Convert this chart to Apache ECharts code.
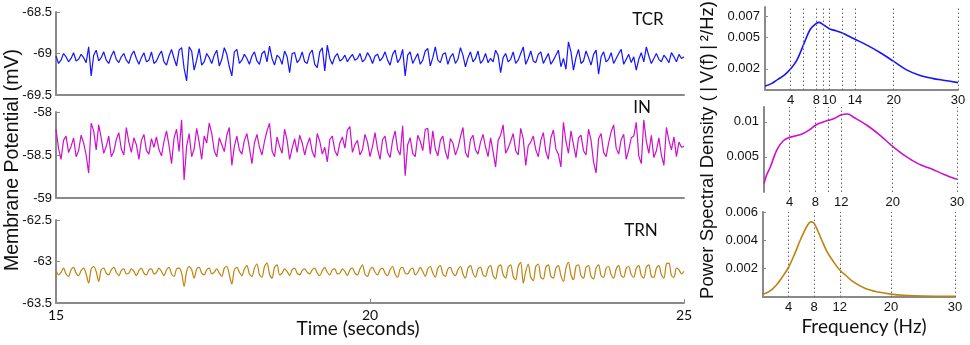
<!DOCTYPE html>
<html>
<head>
<meta charset="utf-8">
<script src="https://cdn.jsdelivr.net/npm/echarts@6/dist/echarts.min.js"></script>
<style>
html,body{margin:0;padding:0;background:#fff;}
#chart{width:970px;height:345px;}
</style>
</head>
<body>
<div id="chart"></div>
<script>
// ---------- DATA ----------
const timeStart = 15;      // seconds
const timeStep = 0.04;     // sampling step (s)
const timeTicks = [15, 20, 25];

const tcrValues = [
-69.03,-69.12,-69.08,-69.00,-69.04,-69.10,-69.06,-68.99,-69.09,-69.07,
-69.01,-69.05,-69.11,-68.92,-69.27,-69.02,-68.96,-69.09,-69.05,-68.98,
-69.08,-69.12,-69.03,-68.97,-69.07,-69.11,-69.04,-69.00,-69.08,-69.12,
-69.02,-68.97,-69.06,-69.13,-69.05,-68.99,-69.10,-69.08,-68.98,-69.12,
-69.09,-69.02,-68.97,-69.10,-69.14,-69.03,-68.95,-69.06,-69.15,-68.96,
-68.93,-69.18,-69.33,-68.92,-68.97,-69.20,-69.08,-68.94,-69.14,-69.10,
-69.00,-69.05,-69.12,-69.02,-68.96,-69.15,-69.07,-68.93,-69.01,-69.16,
-69.27,-68.98,-68.95,-69.12,-69.08,-69.01,-69.06,-69.13,-69.03,-68.98,
-69.09,-69.13,-69.00,-68.97,-69.10,-68.91,-69.06,-69.14,-69.02,-69.05,
-69.13,-68.97,-69.04,-69.23,-69.00,-68.99,-69.11,-69.07,-68.98,-69.10,
-69.12,-69.00,-68.96,-69.13,-69.17,-68.98,-68.93,-69.21,-68.90,-69.06,
-69.13,-69.04,-69.00,-69.09,-69.07,-69.02,-69.10,-69.05,-69.01,-69.08,
-69.06,-69.00,-69.10,-69.07,-68.99,-69.04,-69.12,-69.03,-69.01,-69.09,
-69.05,-68.98,-69.08,-69.14,-69.01,-68.96,-69.11,-69.06,-68.95,-69.27,
-69.02,-68.98,-69.12,-69.06,-69.00,-69.13,-69.08,-68.97,-68.94,-69.15,
-69.05,-68.92,-69.08,-69.11,-69.01,-68.99,-69.13,-69.04,-69.00,-69.12,
-69.07,-68.93,-69.02,-69.16,-69.05,-68.98,-69.10,-69.06,-68.97,-69.12,
-69.08,-69.00,-69.11,-69.06,-69.10,-68.96,-69.02,-69.23,-69.05,-69.00,
-69.10,-69.07,-68.98,-69.12,-69.08,-69.00,-68.92,-69.13,-69.06,-68.97,
-69.09,-69.11,-69.01,-68.98,-69.12,-69.06,-69.00,-69.13,-69.08,-69.02,
-68.96,-69.16,-69.06,-69.19,-68.86,-68.98,-69.20,-69.05,-68.95,-69.12,
-69.09,-68.97,-69.05,-69.14,-69.01,-68.96,-69.25,-69.04,-68.98,-69.10,
-69.07,-68.99,-69.12,-69.06,-69.00,-68.95,-69.13,-69.07,-69.01,-69.11,
-69.04,-69.20,-69.07,-68.99,-69.10,-68.92,-69.03,-69.12,-69.06,-69.00,
-69.07,-69.10,-69.02,-69.06,-69.11,-68.99,-69.04,-69.10,-69.01,-69.06,
-69.04
];

const inValues = [
-58.20,-58.42,-58.55,-58.33,-58.28,-58.47,-58.40,-58.30,-58.52,-58.45,
-58.27,-58.36,-58.50,-58.71,-58.13,-58.22,-58.44,-58.15,-58.30,-58.48,
-58.40,-58.28,-58.52,-58.46,-58.32,-58.24,-58.43,-58.50,-58.18,-58.35,
-58.47,-58.30,-58.38,-58.55,-58.33,-58.26,-58.45,-58.49,-58.31,-58.41,
-58.29,-58.44,-58.51,-58.34,-58.22,-58.39,-58.60,-58.30,-58.20,-58.46,
-58.09,-58.79,-58.40,-58.25,-58.52,-58.43,-58.19,-58.35,-58.55,-58.28,
-58.36,-58.13,-58.25,-58.45,-58.52,-58.30,-58.38,-58.46,-58.27,-58.18,
-58.62,-58.40,-58.28,-58.44,-58.49,-58.33,-58.25,-58.42,-58.60,-58.36,
-58.26,-58.41,-58.50,-58.34,-58.22,-58.13,-58.45,-58.52,-58.29,-58.40,
-58.48,-58.20,-58.33,-58.55,-58.42,-58.31,-58.47,-58.27,-58.36,-58.50,
-58.38,-58.30,-58.46,-58.53,-58.25,-58.34,-58.49,-58.41,-58.58,-58.32,
-58.28,-58.45,-58.51,-58.36,-58.29,-58.42,-58.21,-58.17,-58.47,-58.38,
-58.33,-58.50,-58.44,-58.26,-58.35,-58.52,-58.40,-58.24,-58.43,-58.55,
-58.32,-58.28,-58.47,-58.53,-58.33,-58.22,-58.44,-58.50,-58.16,-58.74,
-58.38,-58.30,-58.48,-58.52,-58.27,-58.34,-58.45,-58.20,-58.19,-58.49,
-58.22,-58.43,-58.51,-58.33,-58.28,-58.46,-58.55,-58.31,-58.36,-58.50,
-58.42,-58.29,-58.18,-58.47,-58.53,-58.32,-58.27,-58.44,-58.49,-58.35,
-58.26,-58.41,-58.52,-58.30,-58.46,-58.64,-58.33,-58.27,-58.15,-58.48,
-58.42,-58.34,-58.25,-58.45,-58.50,-58.19,-58.31,-58.62,-58.39,-58.35,
-58.28,-58.44,-58.52,-58.33,-58.24,-58.46,-58.55,-58.30,-58.21,-58.43,
-58.49,-58.64,-58.12,-58.34,-58.48,-58.22,-58.38,-58.53,-58.30,-58.27,
-58.45,-58.50,-58.20,-58.33,-58.58,-58.71,-58.31,-58.25,-58.47,-58.52,
-58.36,-58.23,-58.15,-58.42,-58.49,-58.32,-58.26,-58.55,-58.44,-58.30,
-58.28,-58.12,-58.51,-58.60,-58.09,-58.34,-58.48,-58.27,-58.53,-58.45,
-58.30,-58.50,-58.62,-58.18,-58.33,-58.44,-58.29,-58.52,-58.35,-58.41,
-58.40
];

const trnValues = [
-63.10,-63.16,-63.13,-63.08,-63.15,-63.18,-63.10,-63.07,-63.14,-63.17,
-63.11,-63.08,-63.15,-63.26,-63.09,-63.06,-63.12,-63.24,-63.10,-63.08,
-63.14,-63.16,-63.10,-63.07,-63.13,-63.17,-63.11,-63.09,-63.15,-63.14,
-63.09,-63.12,-63.17,-63.11,-63.08,-63.14,-63.16,-63.10,-63.09,-63.15,
-63.13,-63.08,-63.12,-63.17,-63.10,-63.07,-63.15,-63.18,-63.09,-63.08,
-63.14,-63.30,-63.12,-63.06,-63.10,-63.20,-63.09,-63.07,-63.14,-63.16,
-63.10,-63.08,-63.15,-63.13,-63.09,-63.14,-63.18,-63.08,-63.06,-63.16,
-63.27,-63.10,-63.07,-63.13,-63.17,-63.09,-63.05,-63.15,-63.18,-63.08,
-63.03,-63.16,-63.19,-63.06,-63.02,-63.15,-63.20,-63.07,-63.04,-63.16,
-63.14,-63.09,-63.12,-63.17,-63.10,-63.08,-63.14,-63.16,-63.11,-63.09,
-63.13,-63.15,-63.10,-63.08,-63.14,-63.17,-63.11,-63.07,-63.13,-63.16,
-63.10,-63.09,-63.15,-63.14,-63.09,-63.12,-63.17,-63.10,-63.08,-63.14,
-63.16,-63.09,-63.04,-63.15,-63.18,-63.10,-63.07,-63.13,-63.16,-63.10,
-63.08,-63.14,-63.17,-63.10,-63.06,-63.15,-63.19,-63.09,-63.07,-63.14,
-63.15,-63.10,-63.08,-63.16,-63.13,-63.07,-63.12,-63.18,-63.09,-63.06,
-63.14,-63.19,-63.08,-63.05,-63.15,-63.18,-63.09,-63.07,-63.14,-63.17,
-63.10,-63.06,-63.15,-63.20,-63.08,-63.05,-63.14,-63.19,-63.09,-63.07,
-63.16,-63.18,-63.08,-63.05,-63.17,-63.21,-63.07,-63.04,-63.16,-63.20,
-63.07,-63.04,-63.18,-63.22,-63.06,-63.01,-63.26,-63.12,-63.03,-63.19,
-63.23,-63.06,-63.03,-63.19,-63.21,-63.07,-63.04,-63.18,-63.20,-63.08,
-63.05,-63.17,-63.24,-63.08,-63.01,-63.16,-63.22,-63.06,-63.04,-63.17,
-63.20,-63.07,-63.05,-63.18,-63.21,-63.08,-63.04,-63.17,-63.19,-63.08,
-63.06,-63.16,-63.20,-63.09,-63.05,-63.17,-63.19,-63.08,-63.06,-63.16,
-63.19,-63.08,-63.05,-63.17,-63.20,-63.07,-63.04,-63.18,-63.19,-63.08,
-63.05,-63.16,-63.20,-63.03,-63.02,-63.17,-63.19,-63.08,-63.10,-63.15,
-63.12
];

// Power spectral densities
const tcrPsdFreq   = [0, 1, 2, 3, 4, 5, 6, 7, 8, 8.4, 9, 10, 11, 12, 13, 14, 16, 18, 20, 22, 24, 26, 28, 30];
const tcrPsdValues = [0.00037, 0.0006, 0.0010, 0.0014, 0.0020, 0.00288, 0.0043, 0.0057, 0.0063, 0.0064, 0.0062, 0.0058, 0.0056, 0.0054, 0.0051, 0.0048, 0.0042, 0.0035, 0.0027, 0.0019, 0.0014, 0.0011, 0.0009, 0.0007];

const inPsdFreq   = [0, 0.4, 1, 2, 3, 4, 5, 6, 7, 8, 9, 10, 11, 12, 13, 14, 16, 18, 20, 22, 24, 26, 28, 30];
const inPsdValues = [0.0012, 0.0024, 0.0036, 0.0060, 0.0073, 0.0078, 0.0080, 0.0083, 0.0088, 0.0095, 0.0099, 0.0102, 0.0105, 0.0110, 0.0111, 0.0106, 0.0095, 0.0081, 0.0065, 0.0051, 0.0040, 0.0033, 0.0025, 0.0018];

const trnPsdFreq   = [0, 1, 2, 3, 4, 5, 6, 7, 7.5, 8, 9, 10, 11, 12, 13, 14, 16, 18, 20, 22, 25, 30];
const trnPsdValues = [0.0002, 0.0004, 0.0008, 0.0014, 0.0021, 0.0031, 0.0042, 0.0051, 0.0053, 0.0052, 0.0042, 0.0032, 0.0025, 0.0019, 0.0015, 0.0011, 0.0006, 0.00035, 0.0002, 0.00012, 0.00007, 0.00005];

const tcrGridFreqs = [4, 6, 8, 9, 10, 12, 14, 20, 30];
const inGridFreqs  = [4, 8, 10, 12, 20, 30];
const trnGridFreqs = [4, 8, 12, 20, 30];
const tcrFreqLabels = [4, 8, 10, 14, 20, 30];
const inFreqLabels  = [4, 8, 12, 20, 30];
const trnFreqLabels = [4, 8, 12, 20, 30];
const tcrPsdTicks = [0.002, 0.005, 0.007];
const inPsdTicks  = [0.005, 0.01];
const trnPsdTicks = [0.002, 0.004, 0.006];

const cellNames = ['TCR', 'IN', 'TRN'];
const colors = ['#1414ff', '#cc10cc', '#c0820e'];

// ---------- CHART ----------
const chart = echarts.init(document.getElementById('chart'), null, {renderer: 'canvas'});

const AX = '#8a8a8a';
const SANS = '"Liberation Sans", Arial, sans-serif';
const CAL = 'Lato, "Open Sans", sans-serif';

function pairs(values) {
  return values.map((v, i) => [+(timeStart + i * timeStep).toFixed(3), v]);
}
function zip(xs, ys) { return xs.map((x, i) => [x, ys[i]]); }

const grids = [
  {left: 56, width: 628, top: 12, height: 83},
  {left: 56, width: 628, top: 112, height: 86},
  {left: 56, width: 628, top: 220, height: 83},
  {left: 765, width: 193, top: 7, height: 83},
  {left: 764, width: 193, top: 107, height: 85},
  {left: 763, width: 192, top: 212, height: 85}
];

const leftRanges = [[-69.5, -68.5], [-59, -58], [-63.5, -62.5]];

const xAxes = [];
const yAxes = [];
for (let i = 0; i < 3; i++) {
  xAxes.push({
    type: 'value', gridIndex: i, min: 15, max: 25, interval: 5,
    axisLine: {show: true, lineStyle: {color: AX, width: 2}},
    axisTick: {show: i === 2, inside: true, length: 4, lineStyle: {color: AX}},
    axisLabel: {show: i === 2, fontFamily: CAL, fontSize: 14, color: '#111', margin: 5,
                customValues: timeTicks},
    splitLine: {show: false}
  });
  yAxes.push({
    type: 'value', gridIndex: i, min: leftRanges[i][0], max: leftRanges[i][1], interval: 0.5,
    axisLine: {show: true, lineStyle: {color: AX, width: 2}},
    axisTick: {show: true, inside: true, length: 4, lineStyle: {color: AX}},
    axisLabel: {fontFamily: SANS, fontSize: 13, color: '#111', margin: 4},
    splitLine: {show: false}
  });
}
const psdLabels = [tcrFreqLabels, inFreqLabels, trnFreqLabels];
const psdYTicks = [tcrPsdTicks, inPsdTicks, trnPsdTicks];
const psdMax = [0.00785, 0.0121, 0.006];
for (let i = 0; i < 3; i++) {
  xAxes.push({
    type: 'value', gridIndex: 3 + i, min: 0, max: 30,
    axisLine: {show: i !== 1, lineStyle: {color: AX, width: 2}},
    axisTick: {show: false},
    axisLabel: {fontFamily: SANS, fontSize: 13, color: '#111', margin: 4,
                customValues: psdLabels[i]},
    splitLine: {show: false}
  });
  yAxes.push({
    type: 'value', gridIndex: 3 + i, min: 0, max: psdMax[i],
    axisLine: {show: true, lineStyle: {color: AX, width: 2}},
    axisTick: {show: true, inside: true, length: 3, lineStyle: {color: AX},
               customValues: psdYTicks[i]},
    axisLabel: {fontFamily: SANS, fontSize: 13, color: '#111', margin: 5,
                customValues: psdYTicks[i],
                formatter: v => String(+(+v).toFixed(4))},
    splitLine: {show: false}
  });
}

const timeSeries = [tcrValues, inValues, trnValues].map((vals, i) => ({
  type: 'line', xAxisIndex: i, yAxisIndex: i, data: pairs(vals),
  showSymbol: false, symbol: 'none', smooth: i === 2 ? 0.3 : false,
  lineStyle: {color: colors[i], width: 1.2}
}));

const psdData = [zip(tcrPsdFreq, tcrPsdValues), zip(inPsdFreq, inPsdValues), zip(trnPsdFreq, trnPsdValues)];
const gridFreqs = [tcrGridFreqs, inGridFreqs, trnGridFreqs];
const psdSeries = psdData.map((d, i) => ({
  type: 'line', xAxisIndex: 3 + i, yAxisIndex: 3 + i, data: d,
  showSymbol: false, symbol: 'none', smooth: 0.35,
  lineStyle: {color: colors[i], width: 1.6},
  z: 3,
  markLine: {
    silent: true, symbol: 'none', animation: false,
    label: {show: false},
    lineStyle: {type: [1.5, 2.5], color: '#666', width: 1},
    data: gridFreqs[i].map(f => ({xAxis: f}))
  }
}));

const nameLabelPos = [[648, 20], [642, 108], [641, 231]];

chart.setOption({
  animation: false,
  grid: grids,
  xAxis: xAxes,
  yAxis: yAxes,
  series: timeSeries.concat(psdSeries),
  graphic: [
    ...cellNames.map((n, i) => ({
      type: 'text', x: nameLabelPos[i][0], y: nameLabelPos[i][1],
      style: {text: n, font: '17px ' + CAL, fill: '#111', align: 'center', verticalAlign: 'middle'}
    })),
    {type: 'text', x: 358, y: 329,
     style: {text: 'Time (seconds)', font: '19px ' + CAL, fill: '#111', align: 'center', verticalAlign: 'middle'}},
    {type: 'text', x: 864, y: 327,
     style: {text: 'Frequency (Hz)', font: '19px ' + CAL, fill: '#111', align: 'center', verticalAlign: 'middle'}},
    {type: 'text', x: 13, y: 160, rotation: Math.PI / 2,
     style: {text: 'Membrane Potential (mV)', font: '19.5px ' + SANS, fill: '#111', align: 'center', verticalAlign: 'middle'}},
    {type: 'text', x: 708, y: 150, rotation: Math.PI / 2,
     style: {text: 'Power Spectral Density (\u2009|\u2009V(f)\u2009|\u2009²/Hz)', font: '18.5px ' + SANS, fill: '#111', align: 'center', verticalAlign: 'middle'}}
  ]
});
</script>
</body>
</html>
